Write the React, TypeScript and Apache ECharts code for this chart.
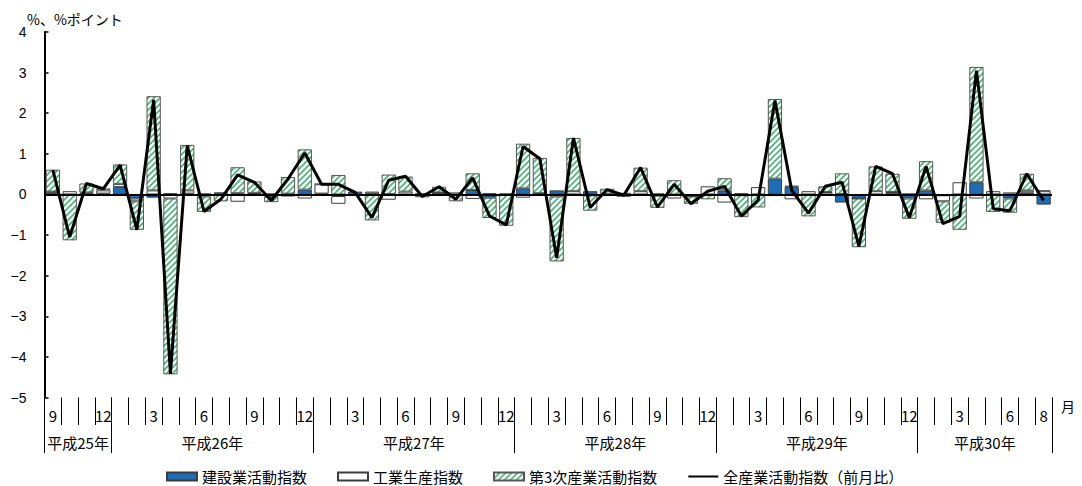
import React, { useEffect, useRef } from 'react';
import * as echarts from 'echarts';

const categories = [
  '2013-09', '2013-10', '2013-11', '2013-12',
  '2014-01', '2014-02', '2014-03', '2014-04', '2014-05', '2014-06', '2014-07', '2014-08', '2014-09', '2014-10', '2014-11', '2014-12',
  '2015-01', '2015-02', '2015-03', '2015-04', '2015-05', '2015-06', '2015-07', '2015-08', '2015-09', '2015-10', '2015-11', '2015-12',
  '2016-01', '2016-02', '2016-03', '2016-04', '2016-05', '2016-06', '2016-07', '2016-08', '2016-09', '2016-10', '2016-11', '2016-12',
  '2017-01', '2017-02', '2017-03', '2017-04', '2017-05', '2017-06', '2017-07', '2017-08', '2017-09', '2017-10', '2017-11', '2017-12',
  '2018-01', '2018-02', '2018-03', '2018-04', '2018-05', '2018-06', '2018-07', '2018-08',
];

const yearLabels = ['平成25年', '平成26年', '平成27年', '平成28年', '平成29年', '平成30年'];
const yearMonthCounts = [4, 12, 12, 12, 12, 8];
const shownMonths = [3, 6, 9, 12];

const construction = [
  0.05, 0.0, 0.02, 0.02,
  0.18, -0.1, -0.08, 0.03, 0.02, 0.02, 0.02, 0.03, 0.02, 0.02, 0.02, 0.12,
  0.02, -0.04, 0.07, 0.02, 0.01, 0.0, 0.01, 0.04, 0.0, 0.11, -0.08, 0.0,
  0.15, 0.03, 0.1, 0.0, 0.08, 0.02, 0.0, 0.0, 0.02, 0.0, -0.05, 0.0,
  0.1, -0.02, 0.0, 0.39, 0.18, 0.0, 0.0, -0.2, -0.1, 0.0, 0.02, -0.1,
  0.1, -0.02, 0.0, 0.3, 0.0, -0.1, 0.05, -0.25,
];

const industry = [
  0.02, 0.08, 0.03, 0.08,
  0.08, -0.07, 0.1, -0.1, 0.08, -0.05, 0.03, -0.18, 0.02, -0.06, -0.05, -0.1,
  0.23, -0.19, -0.02, 0.05, -0.13, 0.07, -0.07, 0.01, 0.05, -0.11, 0.03, 0.02,
  -0.08, 0.0, -0.05, 0.08, -0.02, -0.02, 0.04, 0.08, -0.03, -0.1, 0.0, 0.2,
  -0.2, 0.03, 0.18, -0.04, -0.12, 0.08, 0.06, 0.01, 0.0, 0.08, 0.04, 0.02,
  -0.12, -0.15, 0.3, -0.1, 0.08, 0.05, 0.05, 0.08,
];

const tertiary = [
  0.54, -1.13, 0.22, 0.05,
  0.48, -0.7, 2.32, -4.33, 1.12, -0.38, -0.17, 0.64, 0.28, -0.13, 0.41, 0.99,
  0.01, 0.48, 0.0, -0.64, 0.48, 0.37, 0.01, 0.14, -0.17, 0.41, -0.5, -0.77,
  1.1, 0.87, -1.6, 1.31, -0.38, 0.12, -0.06, 0.58, -0.3, 0.35, -0.18, -0.12,
  0.3, -0.54, -0.32, 1.96, 0.04, -0.54, 0.14, 0.51, -1.2, 0.61, 0.45, -0.5,
  0.72, -0.53, -0.87, 2.84, -0.43, -0.35, 0.41, 0.02,
];

const allIndustry = [
  0.6, -1.05, 0.27, 0.14,
  0.72, -0.87, 2.33, -4.42, 1.2, -0.42, -0.12, 0.48, 0.3, -0.15, 0.38, 1.02,
  0.25, 0.25, 0.05, -0.57, 0.35, 0.45, -0.05, 0.19, -0.12, 0.41, -0.53, -0.75,
  1.18, 0.88, -1.56, 1.39, -0.32, 0.12, -0.02, 0.66, -0.31, 0.25, -0.23, 0.08,
  0.2, -0.53, -0.14, 2.31, 0.1, -0.46, 0.2, 0.3, -1.28, 0.69, 0.51, -0.57,
  0.69, -0.72, -0.54, 3.05, -0.35, -0.4, 0.51, -0.15,
];

const seriesNames = ['建設業活動指数', '工業生産指数', '第3次産業活動指数', '全産業活動指数（前月比）'];

const JP = '"Noto Sans CJK JP", "Noto Sans", sans-serif';

function makeHatch(): HTMLCanvasElement {
  const s = 6;
  const c = document.createElement('canvas');
  c.width = s;
  c.height = s;
  const ctx = c.getContext('2d')!;
  ctx.fillStyle = '#ffffff';
  ctx.fillRect(0, 0, s, s);
  ctx.strokeStyle = '#4fb078';
  ctx.lineWidth = 1.6;
  ctx.beginPath();
  ctx.moveTo(0, s);
  ctx.lineTo(s, 0);
  ctx.moveTo(-s / 2, s / 2);
  ctx.lineTo(s / 2, -s / 2);
  ctx.moveTo(s / 2, s * 1.5);
  ctx.lineTo(s * 1.5, s / 2);
  ctx.stroke();
  return c;
}

export default function App() {
  const ref = useRef<HTMLDivElement>(null);

  useEffect(() => {
    if (!ref.current) return;
    const chart = echarts.init(ref.current, null, { renderer: 'svg' });
    const hatch = makeHatch();

    // boundary axis for year separators / labels
    const bounds: number[] = [0];
    const centers: number[] = [];
    let pos = 0;
    yearMonthCounts.forEach((n) => {
      centers.push(pos + n / 2);
      pos += n;
      bounds.push(pos);
    });
    const boundaryData: string[] = [];
    for (let i = 0; i <= categories.length; i++) boundaryData.push('b' + i);
    const yearAt: Record<string, string> = {};
    centers.forEach((c, k) => {
      yearAt['b' + c] = yearLabels[k];
    });

    const lastIdx = categories.length - 1;
    const monthOf = (v: string) => parseInt(v.split('-')[1], 10);

    const border = { borderColor: '#3c3c3c', borderWidth: 1 };

    const option: any = {
      animation: false,
      backgroundColor: '#ffffff',
      textStyle: { fontFamily: JP },
      grid: { left: 44.5, right: 30, top: 32, bottom: 88.5, containLabel: false },
      legend: {
        left: 166,
        top: 469,
        padding: 0,
        itemWidth: 30,
        itemHeight: 8,
        itemGap: 30,
        textStyle: { fontSize: 15, color: '#000', fontFamily: JP },
        data: [
          { name: seriesNames[0], icon: 'rect' },
          { name: seriesNames[1], icon: 'rect' },
          { name: seriesNames[2], icon: 'rect' },
          { name: seriesNames[3], itemStyle: { opacity: 0 } },
        ],
      },
      xAxis: [
        {
          type: 'category',
          data: categories,
          boundaryGap: true,
          position: 'bottom',
          axisLine: { show: false, onZero: false },
          axisTick: { show: true, interval: 0, length: 27.5, lineStyle: { color: '#000', width: 1 } },
          axisLabel: {
            interval: (i: number, v: string) => shownMonths.includes(monthOf(v)) || i === 0 || i === lastIdx,
            formatter: (v: string) => String(monthOf(v)),
            margin: 10.5,
            fontSize: 15,
            color: '#000',
            fontFamily: JP,
          },
          splitLine: { show: false },
        },
        {
          type: 'category',
          data: boundaryData,
          boundaryGap: false,
          position: 'bottom',
          axisLine: { show: false, onZero: false },
          axisTick: {
            show: true,
            interval: (i: number) => bounds.includes(i),
            length: 55.5,
            lineStyle: { color: '#000', width: 1 },
          },
          axisLabel: {
            interval: (i: number) => centers.includes(i),
            formatter: (v: string) => yearAt[v] || '',
            margin: 37.5,
            fontSize: 15,
            color: '#000',
            fontFamily: JP,
          },
          splitLine: { show: false },
        },
      ],
      yAxis: {
        type: 'value',
        min: -5,
        max: 4,
        interval: 1,
        axisLine: { show: true, lineStyle: { color: '#000', width: 2 } },
        axisTick: { show: true, inside: true, length: 4, lineStyle: { color: '#000', width: 1.5 } },
        axisLabel: {
          margin: 18,
          fontSize: 14,
          color: '#000',
          fontFamily: '"Liberation Sans", Arial, sans-serif',
          formatter: (v: number) => String(v).replace('-', '−'),
        },
        splitLine: { show: false },
      },
      graphic: [
        { type: 'text', left: 27, top: 12, style: { text: '%、%ポイント', fontSize: 14, fill: '#000', fontFamily: JP } },
        { type: 'text', left: 1061, top: 399, style: { text: '月', fontSize: 14, fill: '#000', fontFamily: JP } },
      ],
      series: [
        {
          name: seriesNames[0],
          type: 'bar',
          stack: 'total',
          data: construction,
          barCategoryGap: '15%',
          itemStyle: { color: '#1f6cb5', ...border },
        },
        {
          name: seriesNames[1],
          type: 'bar',
          stack: 'total',
          data: industry,
          barCategoryGap: '15%',
          itemStyle: { color: '#ffffff', ...border },
        },
        {
          name: seriesNames[2],
          type: 'bar',
          stack: 'total',
          data: tertiary,
          barCategoryGap: '15%',
          itemStyle: {
            color: { image: hatch, repeat: 'repeat', imageWidth: 6, imageHeight: 6 },
            borderColor: '#555555',
            borderWidth: 1,
          },
        },
        {
          name: seriesNames[3],
          type: 'line',
          data: allIndustry,
          symbol: 'none',
          showSymbol: false,
          z: 5,
          lineStyle: { color: '#000', width: 3 },
          itemStyle: { color: '#000' },
          markLine: {
            silent: true,
            symbol: 'none',
            label: { show: false },
            lineStyle: { color: '#000', width: 2, type: 'solid' },
            data: [{ yAxis: 0 }],
          },
        },
      ],
    };

    chart.setOption(option);
    return () => chart.dispose();
  }, []);

  return (
    <div
      ref={ref}
      style={{ position: 'fixed', left: 0, top: 0, width: 1082, height: 486, background: '#fff' }}
    />
  );
}
